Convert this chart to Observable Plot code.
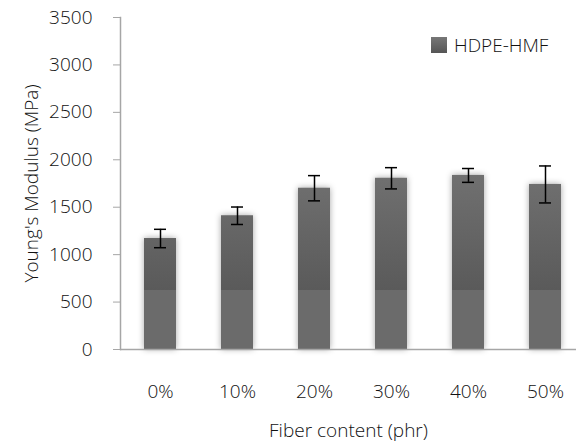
<!DOCTYPE html>
<html>
<head>
<meta charset="utf-8">
<script src="https://cdn.jsdelivr.net/npm/d3@7"></script>
<script src="https://cdn.jsdelivr.net/npm/@observablehq/plot@0.6"></script>
<style>
  html, body { margin: 0; padding: 0; background: #fff; }
  #wrap { position: relative; width: 576px; height: 443px; overflow: hidden; font-family: "Open Sans", sans-serif; }
  #legend { position: absolute; left: 431px; top: 32px; display: flex; align-items: center; gap: 7px; font-size: 19px; font-weight: 300; color: #111; }
  #legend .sw { width: 16px; height: 16px; background: linear-gradient(#777, #555); }
  .bars rect { filter: drop-shadow(0 0 3px rgba(0,0,0,0.35)); }
  svg text { font-weight: 300; }
</style>
</head>
<body>
<div id="wrap"><div id="legend"><span class="sw"></span><span>HDPE-HMF</span></div></div>
<script>
const categories = ["0%", "10%", "20%", "30%", "40%", "50%"];
const modulus = [1170, 1410, 1700, 1805, 1835, 1740];
const errors = [97, 92, 133, 112, 73, 195];
const yTicks = [0, 500, 1000, 1500, 2000, 2500, 3000, 3500];
const seriesName = "HDPE-HMF";

const data = categories.map((c, i) => ({c, v: modulus[i], lo: modulus[i] - errors[i], hi: modulus[i] + errors[i]}));

const chart = Plot.plot({
  width: 576,
  height: 443,
  marginLeft: 120,
  marginRight: 0,
  marginTop: 17,
  marginBottom: 94,
  style: {fontFamily: "Open Sans, sans-serif", fontSize: "19px", color: "#111", background: "transparent"},
  x: {type: "band", domain: categories, range: [120, 585], paddingInner: 0.587, paddingOuter: 0.2935},
  y: {domain: [0, 3500]},
  marks: [
    Plot.barY(data, {x: "c", y: "v", fill: "url(#barGrad)", className: "bars"}),
    Plot.ruleX(data, {x: "c", y1: "lo", y2: "hi", stroke: "#000", strokeWidth: 1.5}),
    Plot.tickY(data, {x: "c", y: "lo", stroke: "#000", strokeWidth: 1.5, insetLeft: 10, insetRight: 10}),
    Plot.tickY(data, {x: "c", y: "hi", stroke: "#000", strokeWidth: 1.5, insetLeft: 10, insetRight: 10}),
    Plot.ruleY([0], {stroke: "#a6a6a6", strokeWidth: 1.5}),
    Plot.frame({anchor: "left", stroke: "#a6a6a6", strokeWidth: 1.5}),
    Plot.axisY({ticks: yTicks, tickFormat: d3.format("d"), tickSize: 7, tickPadding: 21, stroke: "#a6a6a6", fill: "#111", fontSize: 19, label: "Young's Modulus (MPa)", labelAnchor: "center", labelArrow: "none", labelOffset: 96}),
    Plot.axisX({tickSize: 0, tickPadding: 35, fill: "#111", fontSize: 19, label: "Fiber content (phr)", labelAnchor: "center", labelOffset: 87})
  ]
});

const y = chart.scale("y");
const svgns = "http://www.w3.org/2000/svg";
const defs = document.createElementNS(svgns, "defs");
const grad = document.createElementNS(svgns, "linearGradient");
grad.setAttribute("id", "barGrad");
grad.setAttribute("gradientUnits", "userSpaceOnUse");
grad.setAttribute("x1", 0); grad.setAttribute("x2", 0);
grad.setAttribute("y1", y.apply(2000)); grad.setAttribute("y2", y.apply(0));
const split = (y.apply(620) - y.apply(2000)) / (y.apply(0) - y.apply(2000));
[[0, "#737373"], [split, "#5a5a5a"], [split, "#6b6b6b"], [1, "#6b6b6b"]].forEach(([o, c]) => {
  const s = document.createElementNS(svgns, "stop");
  s.setAttribute("offset", o); s.setAttribute("stop-color", c);
  grad.appendChild(s);
});
defs.appendChild(grad);
chart.insertBefore(defs, chart.firstChild);
chart.style.position = "absolute";
chart.style.left = "0"; chart.style.top = "0";
document.getElementById("wrap").insertBefore(chart, document.getElementById("legend"));
</script>
</body>
</html>
